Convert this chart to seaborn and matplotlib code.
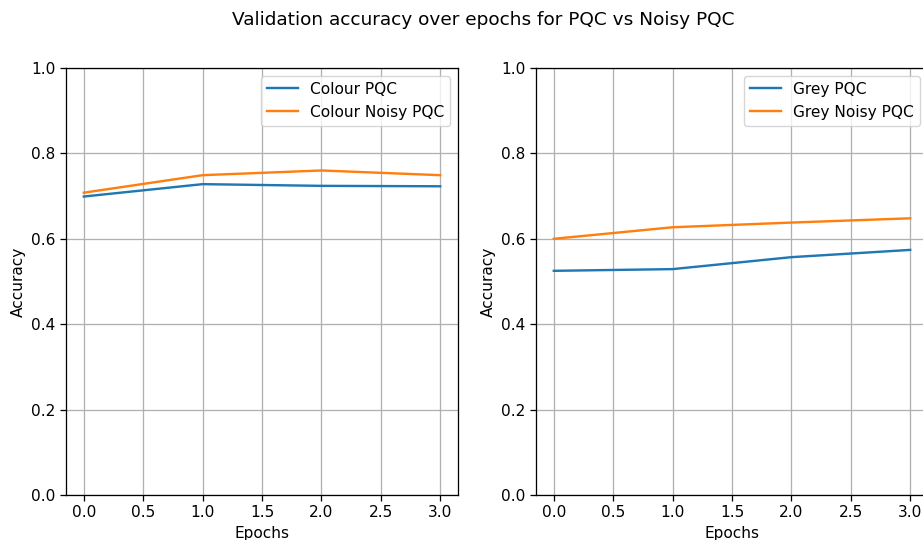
import matplotlib
matplotlib.use("Agg")
import matplotlib.pyplot as plt
import seaborn as sns
import pandas as pd

epochs = [0, 1, 2, 3]
colour_pqc = [0.699, 0.728, 0.724, 0.723]
colour_noisy_pqc = [0.708, 0.749, 0.760, 0.749]
grey_pqc = [0.525, 0.529, 0.557, 0.574]
grey_noisy_pqc = [0.600, 0.627, 0.638, 0.648]

S = 1.15
F = 1.11
plt.rcParams.update({
    "font.family": ["DejaVu Sans"],
    "font.size": 10 * F,
    "axes.linewidth": 0.8 * S,
    "xtick.major.width": 0.8 * S,
    "ytick.major.width": 0.8 * S,
    "xtick.major.size": 3.5 * S,
    "ytick.major.size": 3.5 * S,
    "grid.linewidth": 0.8 * S,
})

fig = plt.figure(figsize=(9.23, 5.4), dpi=100)
W, H = 923, 540
ax1 = fig.add_axes([66 / W, 45 / H, 392 / W, 427 / H])
ax2 = fig.add_axes([536 / W, 45 / H, 392 / W, 427 / H])

def draw(ax, a, b, la, lb):
    df = pd.DataFrame({"Epochs": epochs * 2, "Accuracy": a + b,
                       "Series": [la] * len(epochs) + [lb] * len(epochs)})
    sns.lineplot(data=df, x="Epochs", y="Accuracy", hue="Series",
                 palette=["#1f77b4", "#ff7f0e"], ax=ax, linewidth=1.5 * S)
    ax.set_ylim(0, 1.0)
    ax.set_xticks([0, 0.5, 1, 1.5, 2, 2.5, 3])
    ax.set_xticklabels(["0.0", "0.5", "1.0", "1.5", "2.0", "2.5", "3.0"])
    ax.set_yticks([0, 0.2, 0.4, 0.6, 0.8, 1.0])
    ax.set_yticklabels(["0.0", "0.2", "0.4", "0.6", "0.8", "1.0"])
    ax.grid(True, color="#b0b0b0")
    ax.set_axisbelow(True)
    ax.set_xlabel("Epochs")
    ax.set_ylabel("Accuracy")
    ax.legend(loc="upper right", title=None)

draw(ax1, colour_pqc, colour_noisy_pqc, "Colour PQC", "Colour Noisy PQC")
draw(ax2, grey_pqc, grey_noisy_pqc, "Grey PQC", "Grey Noisy PQC")

fig.text(483 / W, 1 - 20 / H, "Validation accuracy over epochs for PQC vs Noisy PQC",
         ha="center", va="center", fontsize=12 * F)

fig.savefig("out.png", dpi=100)
